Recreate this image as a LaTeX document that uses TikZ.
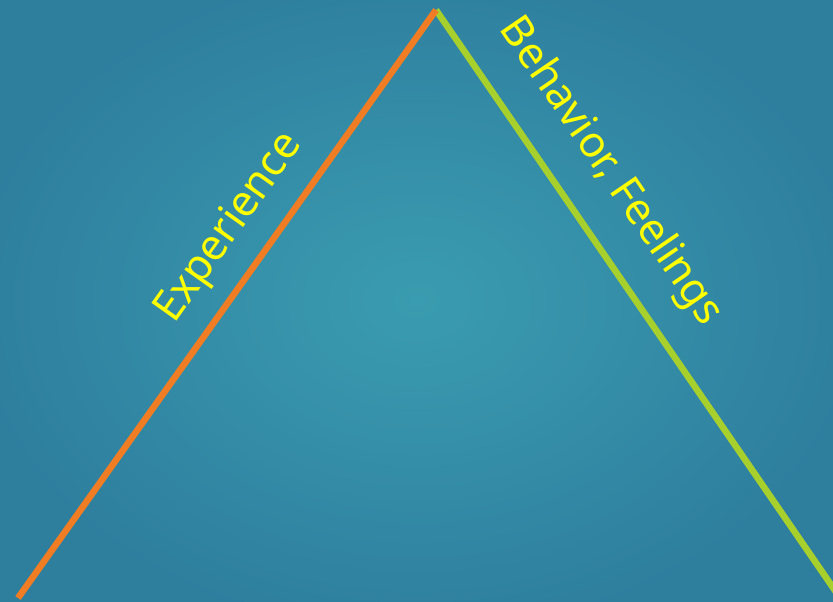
\documentclass[tikz,border=0pt]{standalone}
\usepackage{fontspec}
\setmainfont{Noto Sans}
\definecolor{bginner}{RGB}{58,156,176}
\definecolor{bgouter}{RGB}{46,126,158}
\definecolor{expline}{RGB}{240,125,35}
\definecolor{behline}{RGB}{168,208,44}
\definecolor{labelyellow}{RGB}{255,255,0}
\begin{document}
\begin{tikzpicture}[x=1pt,y=-1pt,
  leg/.style={line width=6.5pt},
  leglabel/.style={text=labelyellow, font=\fontsize{43}{50}\selectfont, inner sep=0pt}]
  \useasboundingbox (0,0) rectangle (833,602);
  % background
  \shade[inner color=bginner, outer color=bgouter] (-40,-40) rectangle (873,642);
  % the two legs of the peak
  \coordinate (left) at (18,598);
  \coordinate (apex) at (436,10);
  \coordinate (right) at (836,592);
  \draw[leg, behline] (apex) -- (right);
  \draw[leg, expline] (left) -- (apex);
  % labels along the legs
  \node[leglabel, rotate=54.6] (exp) at (230,228) {Experience};
  \node[leglabel, rotate=-55.6] (beh) at (610,172) {Behavior, Feelings};
\end{tikzpicture}
\end{document}
